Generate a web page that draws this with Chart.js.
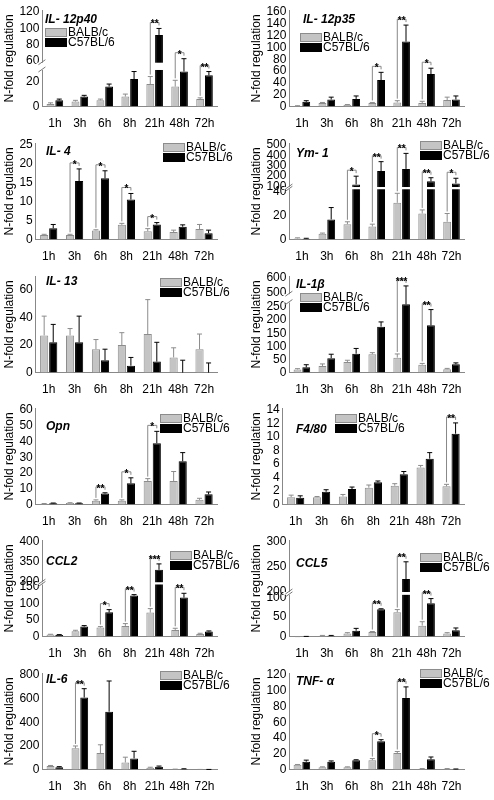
<!DOCTYPE html>
<html>
<head>
<meta charset="utf-8">
<script src="https://cdn.jsdelivr.net/npm/chart.js@4.4.1/dist/chart.umd.min.js"></script>
<style>
  body { margin: 0; background: #fff; width: 494px; height: 800px; position: relative; overflow: hidden; }
  .panel { position: absolute; width: 247px; height: 133px; }
</style>
</head>
<body>
<script>
// time points on every x axis
const hours = ['1h', '3h', '6h', '8h', '21h', '48h', '72h'];

// values (mean and upper error)
const il12p40Balb = [2, 4, 5, 8, 18, 16, 6];
const il12p40BalbErr = [1, 1, 1, 2, 6, 5, 1];
const il12p40C57 = [5, 8, 16, 22, 92, 57, 25];
const il12p40C57Err = [1, 1, 2, 6, 8, 6, 5];

const il12p35Balb = [1, 6, 3, 6, 7, 6, 11];
const il12p35BalbErr = [0.5, 1, 0.5, 1, 3, 3, 5];
const il12p35C57 = [8, 12, 13, 45, 110, 55, 12];
const il12p35C57Err = [2, 4, 5, 13, 28, 10, 6];

const il4Balb = [1.2, 1.2, 2.4, 3.9, 2.2, 2, 2.8];
const il4BalbErr = [0.2, 0.2, 0.2, 0.4, 0.7, 0.5, 1.2];
const il4C57 = [3, 15.5, 16.2, 10.6, 4, 3.4, 1.7];
const il4C57Err = [1, 3.2, 2, 1.6, 0.5, 0.5, 0.8];

const ym1Balb = [1, 5, 13, 11, 31, 22, 15];
const ym1BalbErr = [0.5, 0.5, 2, 2, 8, 3, 7];
const ym1C57 = [0.8, 17, 120, 250, 270, 150, 130];
const ym1C57Err = [0.3, 10, 80, 90, 150, 35, 50];

const il13Balb = [27, 27, 17, 20, 28, 11, 17];
const il13BalbErr = [14, 5, 7, 9, 25, 7, 11];
const il13C57 = [22, 22, 9, 5, 8, 0, 0];
const il13C57Err = [13, 19, 8, 6, 14, 9, 7];

const il1bBalb = [12, 25, 40, 70, 57, 30, 13];
const il1bBalbErr = [3, 8, 7, 6, 14, 5, 3];
const il1bC57 = [20, 55, 72, 175, 490, 180, 32];
const il1bC57Err = [10, 15, 20, 18, 55, 60, 5];

const opnBalb = [0.5, 1, 2.5, 2.5, 15, 15, 3];
const opnBalbErr = [0.2, 0.2, 0.5, 0.5, 1.5, 6, 1];
const opnC57 = [0.8, 0.8, 7, 13.5, 39, 27.5, 6.5];
const opnC57Err = [0.2, 0.2, 0.5, 3.5, 7.5, 5.5, 1.5];

const f480Balb = [1.1, 1.1, 1.2, 2.5, 2.8, 5.5, 2.7];
const f480BalbErr = [0.3, 0.1, 0.3, 0.4, 0.3, 0.3, 0.3];
const f480C57 = [1, 1.9, 2.3, 3.3, 4.5, 6.8, 10.5];
const f480C57Err = [0.3, 0.3, 0.3, 0.2, 0.4, 0.9, 1.6];

const ccl2Balb = [6, 16, 27, 32, 72, 20, 8];
const ccl2BalbErr = [1, 3, 3, 7, 12, 5, 2];
const ccl2C57 = [5, 30, 73, 123, 330, 117, 15];
const ccl2C57Err = [1, 3, 8, 3, 15, 13, 2];

const ccl5Balb = [0, 2, 8, 12, 62, 28, 8];
const ccl5BalbErr = [0, 1, 2, 1, 7, 10, 2];
const ccl5C57 = [0.5, 2, 15, 70, 225, 85, 16];
const ccl5C57Err = [0, 1, 6, 1, 35, 12, 6];

const il6Balb = [30, 180, 140, 60, 15, 3, 1];
const il6BalbErr = [5, 20, 70, 45, 5, 1, 0.5];
const il6C57 = [20, 610, 490, 95, 25, 5, 1];
const il6C57Err = [5, 75, 260, 60, 5, 2, 0.5];

const tnfBalb = [6, 3, 3, 12, 21, 1, 1];
const tnfBalbErr = [0.5, 0.5, 0.5, 2, 2, 0.3, 0.3];
const tnfC57 = [10, 10, 12, 36, 91, 13, 0.5];
const tnfC57Err = [2, 1, 0.5, 2, 14, 3, 0.3];

// tick labels
const il12p40Ticks = [0, 20, 60, 80, 100, 120];
const il12p35Ticks = [0, 20, 40, 60, 80, 100, 120, 140, 160];
const il4Ticks = [0, 5, 10, 15, 20, 25];
const ym1Ticks = [0, 20, 40, 100, 200, 300, 400, 500];
const il13Ticks = [0, 20, 40, 60];
const il1bTicks = [0, 50, 100, 150, 200, 250, 500, 600];
const opnTicks = [0, 10, 20, 30, 40, 50, 60];
const f480Ticks = [0, 2, 4, 6, 8, 10, 12, 14];
const ccl2Ticks = [0, 50, 100, 150, 300, 350, 400];
const ccl5Ticks = [0, 50, 100, 200, 250, 300];
const il6Ticks = [0, 200, 400, 600, 800];
const tnfTicks = [0, 20, 40, 60, 80, 100, 120];

// significance stars per time point
const il12p40Stars = ['', '', '', '', '**', '*', '**'];
const il12p35Stars = ['', '', '', '*', '**', '*', ''];
const il4Stars = ['', '*', '*', '*', '*', '', ''];
const ym1Stars = ['', '', '*', '**', '**', '**', '*'];
const il13Stars = ['', '', '', '', '', '', ''];
const il1bStars = ['', '', '', '', '***', '**', ''];
const opnStars = ['', '', '**', '*', '*', '', ''];
const f480Stars = ['', '', '', '', '', '', '**'];
const ccl2Stars = ['', '', '*', '**', '***', '**', ''];
const ccl5Stars = ['', '', '', '**', '**', '**', ''];
const il6Stars = ['', '**', '', '', '', '', ''];
const tnfStars = ['', '', '', '*', '**', '', ''];

// broken axis: values above b2 are compressed by k and shifted to sit above b1 + gap
function makeMap(brk) {
  if (!brk) return v => v;
  return v => v <= brk.b1 ? v : (v < brk.b2 ? brk.b1 : brk.b1 + brk.gap + (v - brk.b2) * brk.k);
}

const panels = [
  { title: 'IL- 12p40', col: 0, row: 0, balb: il12p40Balb, balbErr: il12p40BalbErr, c57: il12p40C57, c57Err: il12p40C57Err, ticks: il12p40Ticks, stars: il12p40Stars,
    brk: { b1: 28, b2: 60, gap: 8.3, k: 0.653 }, titlePos: [45, 20], legendPos: [45, 28] },
  { title: 'IL- 12p35', col: 1, row: 0, balb: il12p35Balb, balbErr: il12p35BalbErr, c57: il12p35C57, c57Err: il12p35C57Err, ticks: il12p35Ticks, stars: il12p35Stars,
    titlePos: [303, 20], legendPos: [300, 33] },
  { title: 'IL- 4', col: 0, row: 1, balb: il4Balb, balbErr: il4BalbErr, c57: il4C57, c57Err: il4C57Err, ticks: il4Ticks, stars: il4Stars,
    titlePos: [46, 152], legendPos: [163, 143] },
  { title: 'Ym- 1', col: 1, row: 1, balb: ym1Balb, balbErr: ym1BalbErr, c57: ym1C57, c57Err: ym1C57Err, ticks: ym1Ticks, stars: ym1Stars,
    brk: { b1: 42, b2: 100, gap: 2.7, k: 0.0873 }, titlePos: [296, 154], legendPos: [420, 141] },
  { title: 'IL- 13', col: 0, row: 2, balb: il13Balb, balbErr: il13BalbErr, c57: il13C57, c57Err: il13C57Err, ticks: il13Ticks, stars: il13Stars,
    max: 70, titlePos: [46, 282], legendPos: [160, 278] },
  { title: 'IL-1β', col: 1, row: 2, balb: il1bBalb, balbErr: il1bBalbErr, c57: il1bC57, c57Err: il1bC57Err, ticks: il1bTicks, stars: il1bStars,
    brk: { b1: 260, b2: 500, gap: 45.7, k: 0.543 }, titlePos: [296, 285], legendPos: [300, 293] },
  { title: 'Opn', col: 0, row: 3, balb: opnBalb, balbErr: opnBalbErr, c57: opnC57, c57Err: opnC57Err, ticks: opnTicks, stars: opnStars,
    titlePos: [46, 427], legendPos: [160, 414] },
  { title: 'F4/80', col: 1, row: 3, balb: f480Balb, balbErr: f480BalbErr, c57: f480C57, c57Err: f480C57Err, ticks: f480Ticks, stars: f480Stars,
    titlePos: [296, 430], legendPos: [335, 414] },
  { title: 'CCL2', col: 0, row: 4, balb: ccl2Balb, balbErr: ccl2BalbErr, c57: ccl2C57, c57Err: ccl2C57Err, ticks: ccl2Ticks, stars: ccl2Stars,
    brk: { b1: 155, b2: 300, gap: 9.7, k: 1.19 }, titlePos: [46, 562], legendPos: [170, 551] },
  { title: 'CCL5', col: 1, row: 4, balb: ccl5Balb, balbErr: ccl5BalbErr, c57: ccl5C57, c57Err: ccl5C57Err, ticks: ccl5Ticks, stars: ccl5Stars,
    brk: { b1: 105, b2: 200, gap: 10.4, k: 1.258 }, titlePos: [296, 564], legendPos: [420, 553] },
  { title: 'IL-6', col: 0, row: 5, balb: il6Balb, balbErr: il6BalbErr, c57: il6C57, c57Err: il6C57Err, ticks: il6Ticks, stars: il6Stars,
    titlePos: [46, 680], legendPos: [160, 671] },
  { title: 'TNF- α', col: 1, row: 5, balb: tnfBalb, balbErr: tnfBalbErr, c57: tnfC57, c57Err: tnfC57Err, ticks: tnfTicks, stars: tnfStars,
    titlePos: [296, 682], legendPos: [420, 669] }
];

const rowTops = [0, 133, 266, 398, 530, 663];
const font = 'Liberation Sans, Arial, sans-serif';

// error bars, brackets, stars, axis breaks, title and legend
const decorations = {
  id: 'decorations',
  afterDatasetsDraw(chart, args, opts) {
    const p = opts.panel;
    const map = opts.map;
    const ctx = chart.ctx;
    const y = chart.scales.y;
    const area = chart.chartArea;
    const ox = p.col * 247, oy = rowTops[p.row];
    ctx.save();

    // white gap across the broken axis
    if (p.brk) {
      const yLow = y.getPixelForValue(p.brk.b1 + p.brk.gap * 0.15);
      const yHigh = y.getPixelForValue(p.brk.b1 + p.brk.gap * 0.85);
      ctx.fillStyle = '#fff';
      ctx.fillRect(area.left - 6, yHigh, area.right - area.left + 7, yLow - yHigh);
      ctx.strokeStyle = '#777';
      ctx.lineWidth = 1;
      [yLow, yHigh].forEach(py => {
        ctx.beginPath();
        ctx.moveTo(area.left - 4, py + 2);
        ctx.lineTo(area.left + 3, py - 3);
        ctx.stroke();
      });
    }

    // error bars (upper only)
    const sets = [[p.balb, p.balbErr, '#8c8c8c'], [p.c57, p.c57Err, '#000']];
    sets.forEach((s, di) => {
      const meta = chart.getDatasetMeta(di);
      meta.data.forEach((bar, i) => {
        const top = y.getPixelForValue(map(s[0][i] + s[1][i]));
        const base = y.getPixelForValue(map(s[0][i]));
        ctx.strokeStyle = s[2];
        ctx.lineWidth = 1;
        ctx.beginPath();
        ctx.moveTo(bar.x, base);
        ctx.lineTo(bar.x, top);
        ctx.moveTo(bar.x - 2.5, top);
        ctx.lineTo(bar.x + 2.5, top);
        ctx.stroke();
      });
    });

    // significance brackets
    const m0 = chart.getDatasetMeta(0), m1 = chart.getDatasetMeta(1);
    p.stars.forEach((st, i) => {
      if (!st) return;
      const x0 = m0.data[i].x, x1 = m1.data[i].x;
      const yb = y.getPixelForValue(map(p.balb[i] + p.balbErr[i])) - 2;
      const yc = y.getPixelForValue(map(p.c57[i] + p.c57Err[i])) - 3;
      const yt = Math.min(yb, yc) - 3;
      ctx.strokeStyle = '#888';
      ctx.beginPath();
      ctx.moveTo(x0, yb);
      ctx.lineTo(x0, yt);
      ctx.lineTo(x1, yt);
      ctx.lineTo(x1, yt + 3);
      ctx.stroke();
      ctx.fillStyle = '#000';
      ctx.font = 'bold 10px ' + font;
      ctx.textAlign = 'center';
      ctx.textBaseline = 'alphabetic';
      ctx.fillText(st, (x0 + x1) / 2, yt + 5);
    });

    // title
    ctx.fillStyle = '#000';
    ctx.font = 'italic bold 12px ' + font;
    ctx.textAlign = 'left';
    ctx.textBaseline = 'middle';
    ctx.fillText(p.title, p.titlePos[0] - ox, p.titlePos[1] - oy);

    // legend
    const lx = p.legendPos[0] - ox, ly = p.legendPos[1] - oy;
    [['BALB/c', '#c4c4c4', '#8c8c8c'], ['C57BL/6', '#000', '#000']].forEach((e, k) => {
      const by = ly + k * 10;
      ctx.fillStyle = e[1];
      ctx.fillRect(lx, by, 22, 9);
      ctx.strokeStyle = e[2];
      ctx.strokeRect(lx + 0.5, by + 0.5, 21, 8);
      ctx.fillStyle = '#000';
      ctx.font = '12px ' + font;
      ctx.fillText(e[0], lx + 23, by + 5);
    });
    ctx.restore();
  }
};

panels.forEach(p => {
  const div = document.createElement('div');
  div.className = 'panel';
  div.style.left = (p.col * 247) + 'px';
  div.style.top = rowTops[p.row] + 'px';
  const canvas = document.createElement('canvas');
  canvas.width = 247;
  canvas.height = 133;
  div.appendChild(canvas);
  document.body.appendChild(div);

  const map = makeMap(p.brk);
  const topTick = p.ticks[p.ticks.length - 1];
  const yMax = p.max ? map(p.max) : map(topTick) * 1.02;

  new Chart(canvas.getContext('2d'), {
    type: 'bar',
    data: {
      labels: hours,
      datasets: [
        { label: 'BALB/c', data: p.balb.map(map), backgroundColor: '#c4c4c4', borderColor: '#8c8c8c', borderWidth: 1 },
        { label: 'C57BL/6', data: p.c57.map(map), backgroundColor: '#000', borderColor: '#000', borderWidth: 1 }
      ]
    },
    options: {
      responsive: false,
      animation: false,
      layout: { padding: { top: 6, right: 30, left: 2 } },
      categoryPercentage: 0.7,
      barPercentage: 0.9,
      plugins: { legend: { display: false }, tooltip: { enabled: false }, decorations: { panel: p, map: map } },
      scales: {
        x: {
          grid: { display: false },
          border: { color: '#888' },
          ticks: { color: '#000', font: { family: font, size: 12 }, padding: 2, maxRotation: 0, autoSkip: false }
        },
        y: {
          min: 0,
          max: yMax,
          grid: { display: false, drawTicks: false },
          border: { color: '#888' },
          afterBuildTicks: scale => { scale.ticks = p.ticks.map(v => ({ value: map(v) })); },
          ticks: { color: '#000', font: { family: font, size: 12 }, padding: 3, autoSkip: false, callback: (v, i) => p.ticks[i] },
          title: { display: true, text: 'N-fold regulation', color: '#000', font: { family: font, size: 12 }, padding: 0 }
        }
      }
    },
    plugins: [decorations]
  });
});
</script>
</body>
</html>
